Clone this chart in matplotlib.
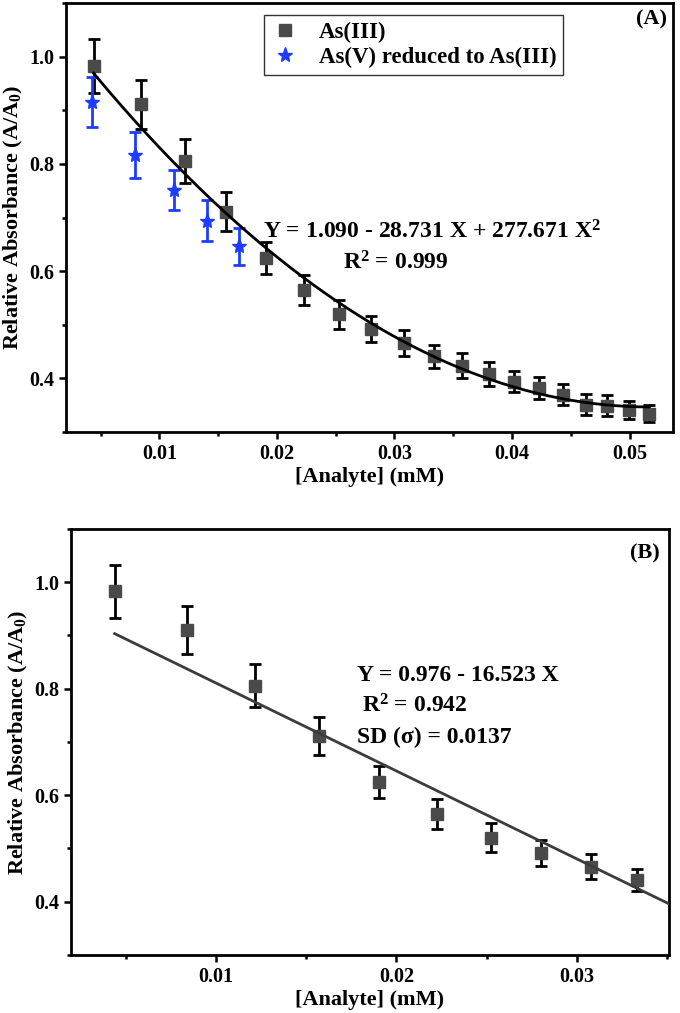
import numpy as np
import matplotlib
matplotlib.use("Agg")
import matplotlib.pyplot as plt
from matplotlib.ticker import MultipleLocator

plt.rcParams['font.family'] = ['Liberation Serif', 'DejaVu Serif']
plt.rcParams['font.weight'] = 'bold'
plt.rcParams['mathtext.fontset'] = 'custom'
plt.rcParams['mathtext.rm'] = 'Liberation Serif:bold'
plt.rcParams['mathtext.it'] = 'Liberation Serif:bold'
plt.rcParams['mathtext.bf'] = 'Liberation Serif:bold'

# As(III) calibration points
conc = [0.00439, 0.0084, 0.01214, 0.01569, 0.01906, 0.02227, 0.02524, 0.02803,
        0.03078, 0.03333, 0.03574, 0.03807, 0.0402, 0.04232, 0.04434, 0.04632,
        0.04809, 0.04992, 0.05162]
absorb = [0.983, 0.911, 0.806, 0.711, 0.624, 0.564, 0.520, 0.492, 0.466, 0.441,
          0.424, 0.408, 0.394, 0.382, 0.370, 0.351, 0.349, 0.341, 0.334]
absorb_err = [0.05, 0.045, 0.041, 0.036, 0.030, 0.028, 0.027, 0.024, 0.024, 0.021,
              0.023, 0.022, 0.020, 0.021, 0.020, 0.020, 0.020, 0.017, 0.016]

# As(V) reduced to As(III)
conc_v = [0.00422, 0.00794, 0.0112, 0.01404, 0.01673]
absorb_v = [0.915, 0.817, 0.7515, 0.694, 0.646]
absorb_v_err = [0.047, 0.043, 0.038, 0.038, 0.034]

# fit coefficients as printed on the chart
quad = [1.090, -28.731, 277.671]
lin = [0.976, -16.523]
n_lin = 11

sq_color = '#4a4a4a'
star_color = '#1e3cff'


def style_axes(ax, xlim):
    ax.set_xlim(*xlim)
    ax.set_ylim(0.3, 1.1)
    ax.xaxis.set_major_locator(MultipleLocator(0.01))
    ax.xaxis.set_minor_locator(MultipleLocator(0.005))
    ax.yaxis.set_major_locator(MultipleLocator(0.2))
    ax.yaxis.set_minor_locator(MultipleLocator(0.1))
    ax.tick_params(which='both', direction='out', width=1.8, labelsize=14.5)
    ax.tick_params(which='major', length=5)
    ax.tick_params(which='minor', length=3)
    for s in ax.spines.values():
        s.set_linewidth(2)
    ax.set_xlabel('[Analyte] (mM)', fontsize=16, fontweight='bold', labelpad=2)
    ax.set_ylabel('Relative Absorbance (A/A$_0$)', fontsize=16, fontweight='bold', labelpad=3)
    for lab in ax.get_xticklabels() + ax.get_yticklabels():
        lab.set_fontweight('bold')


fig = plt.figure(figsize=(6.8, 10.13), dpi=100)

# ---- panel A
ax1 = fig.add_axes([0.0971, 0.5735, 0.8926, 0.4235])
xs = np.linspace(conc[0], conc[-1], 200)
ax1.plot(xs, quad[0] + quad[1] * xs + quad[2] * xs ** 2, color='black', lw=2, zorder=3)
ax1.errorbar(conc, absorb, yerr=absorb_err, fmt='s', ms=8, color=sq_color,
             ecolor='black', elinewidth=2, capsize=4, capthick=2,
             label='As(III)', zorder=2)
ax1.errorbar(conc_v, absorb_v, yerr=absorb_v_err, fmt='*', ms=11, color=star_color,
             ecolor=star_color, elinewidth=2, capsize=4, capthick=2,
             label='As(V) reduced to As(III)', zorder=2)
style_axes(ax1, (0.00205, 0.0537))
handles, labels = ax1.get_legend_handles_labels()
handles = [h[0] for h in handles]
leg = ax1.legend(handles, labels, loc='upper left', bbox_to_anchor=(0.326, 0.972),
                 fontsize=16.5, frameon=True, fancybox=False, edgecolor='black',
                 handlelength=1.2, handletextpad=0.9, borderpad=0.3, labelspacing=0.15,
                 borderaxespad=0)
leg.get_frame().set_linewidth(1)
ax1.text(0.99, 0.985, '(A)', transform=ax1.transAxes, ha='right', va='top',
         fontsize=16, fontweight='bold')
ax1.text(0.0332, 0.674, 'Y = 1.090 - 28.731 X + 277.671 X$^2$', ha='center', va='center',
         fontsize=17, fontweight='bold')
ax1.text(0.0301, 0.6155, 'R$^2$ = 0.999', ha='center', va='center',
         fontsize=17, fontweight='bold')

# ---- panel B
ax2 = fig.add_axes([0.1044, 0.0573, 0.8794, 0.4205])
xl = np.linspace(conc[0], 0.0351, 100)
ax2.plot(xl, lin[0] + lin[1] * xl, color='#3c3c3c', lw=2, zorder=3)
ax2.errorbar(conc[:n_lin], absorb[:n_lin], yerr=absorb_err[:n_lin], fmt='s', ms=8,
             color=sq_color, ecolor='black', elinewidth=2, capsize=4, capthick=2, zorder=2)
style_axes(ax2, (0.00197, 0.0351))
ax2.text(0.985, 0.965, '(B)', transform=ax2.transAxes, ha='right', va='top',
         fontsize=16, fontweight='bold')
ax2.text(0.0178, 0.824, 'Y = 0.976 - 16.523 X', ha='left', va='center',
         fontsize=17, fontweight='bold')
ax2.text(0.0181, 0.768, 'R$^2$ = 0.942', ha='left', va='center',
         fontsize=17, fontweight='bold')
ax2.text(0.0178, 0.709, 'SD (σ) = 0.0137', ha='left', va='center',
         fontsize=17, fontweight='bold')

fig.savefig('out.png', dpi=100)
